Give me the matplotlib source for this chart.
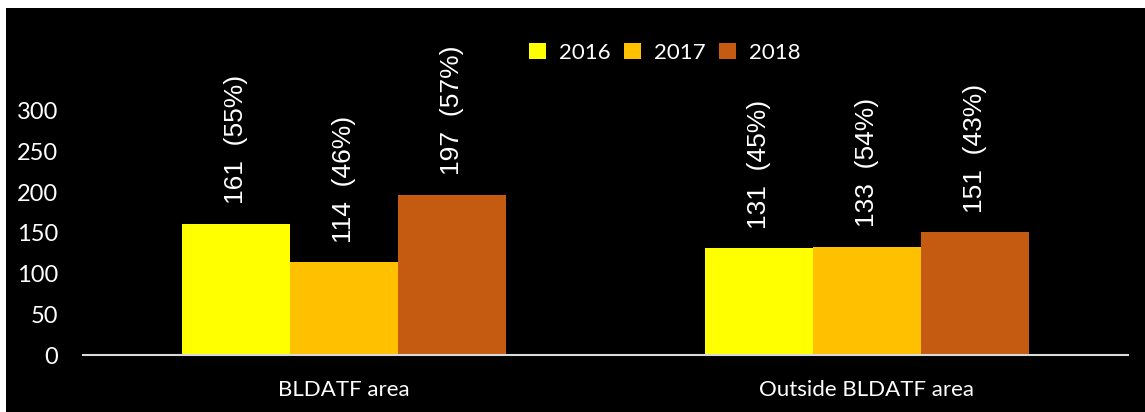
import numpy as np
import matplotlib
matplotlib.use("Agg")
import matplotlib.pyplot as plt
from matplotlib.patches import Rectangle

# data
categories = ["BLDATF area", "Outside BLDATF area"]
years = ["2016", "2017", "2018"]
counts = {
    "2016": [161, 131],
    "2017": [114, 133],
    "2018": [197, 151],
}
shares = {
    "2016": [55, 45],
    "2017": [46, 54],
    "2018": [57, 43],
}
colors = ["#FFFF00", "#FFC000", "#C55A11"]
yticks = [0, 50, 100, 150, 200, 250, 300]

fig = plt.figure(figsize=(11.45, 4.12), dpi=100, facecolor="white")
# black panel behind the chart
fig.patches.append(Rectangle((6 / 1145, 0), 1, (412 - 8) / 412,
                             transform=fig.transFigure, facecolor="black",
                             edgecolor="none", zorder=-10))

ax = fig.add_axes([83 / 1145, 57 / 412, 1045 / 1145, 347 / 412])
ax.set_facecolor("none")

x = np.arange(len(categories))
w = 0.207
for i, yr in enumerate(years):
    pos = x + (i - 1) * w
    bars = ax.bar(pos, counts[yr], width=w, color=colors[i], label=yr, zorder=2)
    for b, v, s in zip(bars, counts[yr], shares[yr]):
        ax.annotate(f"{v}  ({s}%)", (b.get_x() + b.get_width() / 2, v),
                    xytext=(0, 14), textcoords="offset points",
                    rotation=90, ha="center", va="bottom", color="white",
                    fontsize=19, family="Liberation Sans")

ax.set_xlim(-0.5, 1.5)
ax.set_ylim(0, 426)
ax.set_yticks(yticks)
ax.set_xticks(x)
ax.set_xticklabels(categories)
ax.tick_params(axis="both", length=0, colors="white")
ax.tick_params(axis="y", pad=18, labelsize=17)
ax.tick_params(axis="x", pad=18, labelsize=16)
for lbl in ax.get_xticklabels() + ax.get_yticklabels():
    lbl.set_family("Lato")

for sp in ["top", "right", "left"]:
    ax.spines[sp].set_visible(False)
ax.spines["bottom"].set_color("#d9d9d9")
ax.spines["bottom"].set_linewidth(1.5)

leg = ax.legend(loc="center", bbox_to_anchor=(0.557, 0.87), ncol=3,
                frameon=False, handlelength=0.75, handleheight=0.75,
                handletextpad=0.6, columnspacing=0.6,
                prop={"family": "Lato", "size": 16})
for t in leg.get_texts():
    t.set_color("white")

fig.savefig("out.png", dpi=100, facecolor=fig.get_facecolor())
